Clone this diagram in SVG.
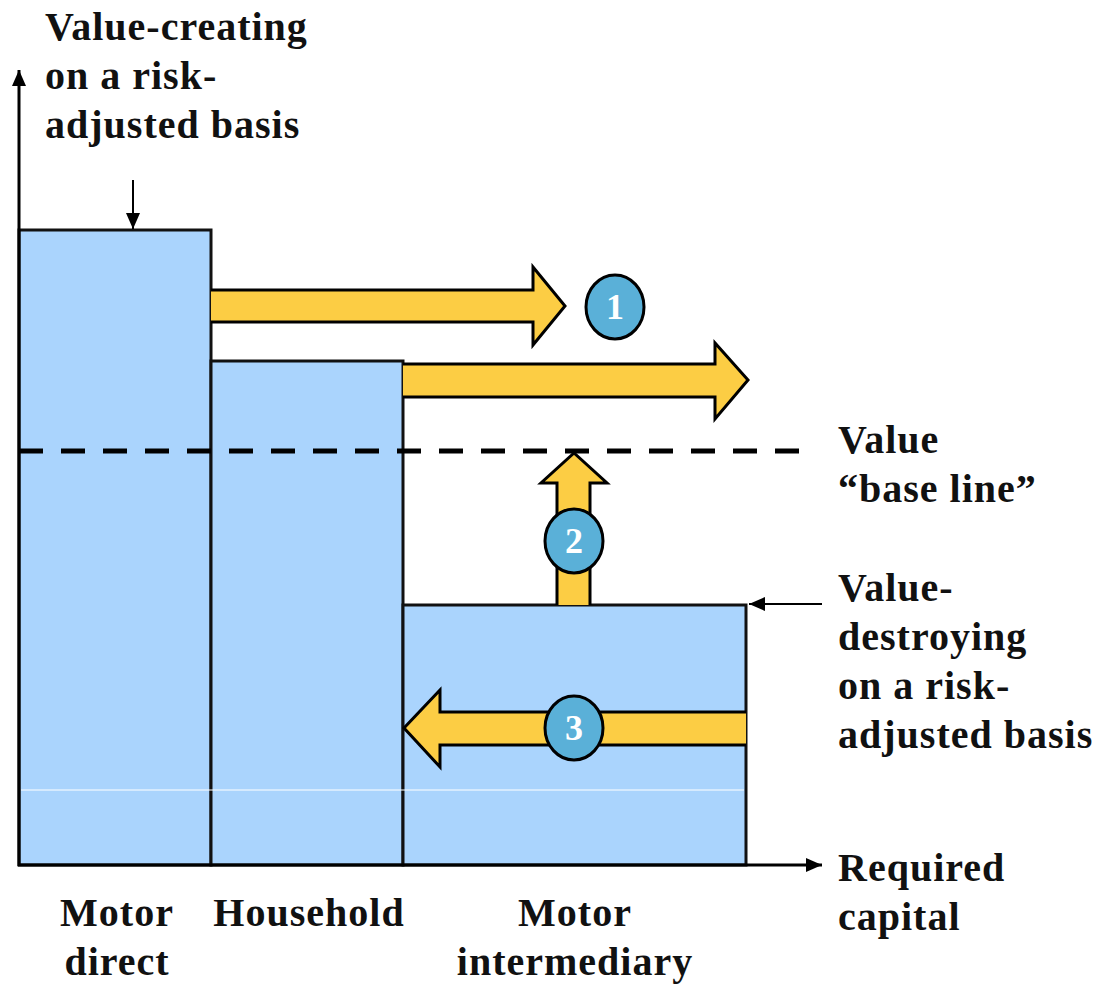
<svg xmlns="http://www.w3.org/2000/svg" width="1095" height="986" viewBox="0 0 1095 986">
  <style>
    .lbl { font-family: "Liberation Serif", "DejaVu Serif", serif; font-weight: bold; font-size: 40px; letter-spacing: 1px; fill: #111; }
    .mid { text-anchor: middle; }
    .bar { fill: #aad4fd; stroke: #111; stroke-width: 3; }
    .flow { fill: #fccd44; stroke: #000; stroke-width: 3; stroke-linejoin: miter; }
    .badge { fill: #5ab0d8; stroke: #000; stroke-width: 3; }
    .num { font-family: "Liberation Serif", "DejaVu Serif", serif; font-weight: bold; font-size: 36px; fill: #fff; text-anchor: middle; }
    .axis { stroke: #000; stroke-width: 3; fill: none; }
    .thin { stroke: #000; stroke-width: 2; fill: none; }
  </style>
  <defs>
    <marker id="tipLg" viewBox="0 0 10 10" refX="10" refY="5" markerWidth="16" markerHeight="14" markerUnits="userSpaceOnUse" orient="auto" preserveAspectRatio="none">
      <path d="M0,0 L10,5 L0,10 z" fill="#000"/>
    </marker>
  </defs>

  <!-- bars -->
  <g id="bar-motor-direct">
    <rect class="bar" x="19" y="230" width="192" height="635"/>
  </g>
  <g id="bar-household">
    <rect class="bar" x="211" y="361" width="192" height="504"/>
  </g>
  <g id="bar-motor-intermediary">
    <rect class="bar" x="403" y="605" width="343" height="260"/>
  </g>
  <!-- faint divider across the bars -->
  <line x1="21" y1="790" x2="744" y2="790" stroke="#fff" stroke-width="1.2"/>

  <!-- value base line -->
  <line x1="19" y1="451" x2="806" y2="451" stroke="#000" stroke-width="5" stroke-dasharray="24 18"/>

  <g id="connectors">
    <!-- axes -->
    <line class="axis" x1="19" y1="866" x2="19" y2="70" marker-end="url(#tipLg)"/>
    <line class="axis" x1="18" y1="865" x2="822" y2="865" marker-end="url(#tipLg)"/>
    <!-- pointer arrows -->
    <line class="thin" x1="133" y1="180" x2="133" y2="229" marker-end="url(#tipLg)"/>
    <line class="thin" x1="822" y1="604" x2="749" y2="604" marker-end="url(#tipLg)"/>

    <!-- block arrows -->
    <path class="flow" d="M211,290 L533,290 L533,267 L565,306 L533,345 L533,322 L211,322"/>
    <path class="flow" d="M403,364 L715,364 L715,343 L748,380 L715,419 L715,397 L403,397"/>
    <path class="flow" d="M557,605 L557,483 L541,483 L574,453 L607,483 L590,483 L590,605"/>
    <path class="flow" d="M746,712 L440,712 L440,690 L404,728 L440,767 L440,745 L746,745"/>
  </g>

  <!-- numbered badges -->
  <g id="badge-1">
    <ellipse class="badge" cx="615" cy="307" rx="29" ry="32"/>
    <text class="num" x="615" y="319">1</text>
  </g>
  <g id="badge-2">
    <ellipse class="badge" cx="574" cy="541" rx="29" ry="32"/>
    <text class="num" x="574" y="553">2</text>
  </g>
  <g id="badge-3">
    <ellipse class="badge" cx="574" cy="728" rx="29" ry="32"/>
    <text class="num" x="574" y="740">3</text>
  </g>

  <!-- annotations -->
  <g id="label-value-creating">
    <text class="lbl" x="45" y="40">Value-creating</text>
    <text class="lbl" x="45" y="89">on a risk-</text>
    <text class="lbl" x="45" y="138">adjusted basis</text>
  </g>
  <g id="label-base-line">
    <text class="lbl" x="838" y="453">Value</text>
    <text class="lbl" x="838" y="502">“base line”</text>
  </g>
  <g id="label-value-destroying">
    <text class="lbl" x="838" y="601">Value-</text>
    <text class="lbl" x="838" y="650">destroying</text>
    <text class="lbl" x="838" y="699">on a risk-</text>
    <text class="lbl" x="838" y="748">adjusted basis</text>
  </g>
  <g id="label-required-capital">
    <text class="lbl" x="838" y="881">Required</text>
    <text class="lbl" x="838" y="930">capital</text>
  </g>
  <g id="label-motor-direct">
    <text class="lbl mid" x="117" y="926">Motor</text>
    <text class="lbl mid" x="117" y="975">direct</text>
  </g>
  <g id="label-household">
    <text class="lbl mid" x="309" y="926">Household</text>
  </g>
  <g id="label-motor-intermediary">
    <text class="lbl mid" x="575" y="926">Motor</text>
    <text class="lbl mid" x="575" y="975">intermediary</text>
  </g>
</svg>
